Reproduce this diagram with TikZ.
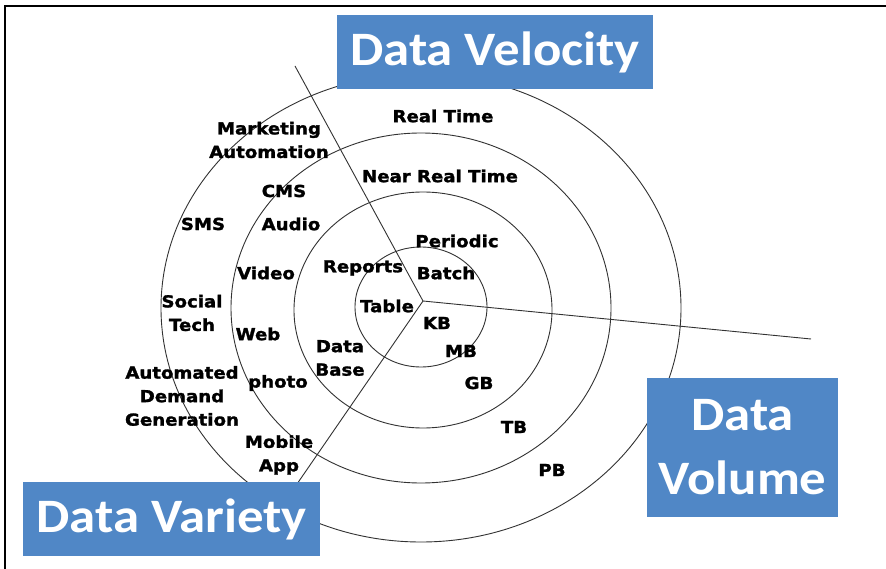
\documentclass[tikz,border=0pt]{standalone}
\usepackage{fontspec}
\newfontfamily\labfont[FakeStretch=1.1, BoldFeatures={FakeBold=1.6}]{DejaVu Sans}
\newfontfamily\boxfont[FakeStretch=1.1]{Carlito}
\definecolor{boxblue}{RGB}{80,135,198}
\definecolor{ringgray}{RGB}{50,50,50}
\tikzset{
  lab/.style={font=\labfont\bfseries\fontsize{16.5}{23.5}\selectfont, align=center, inner sep=0pt, text=black},
  title/.style={fill=boxblue, draw=none, text=white, inner sep=0pt, align=center,
    font=\boxfont\bfseries\fontsize{48}{64}\selectfont},
  ring/.style={draw=ringgray, line width=0.9pt},
  axis/.style={draw=ringgray, line width=0.9pt},
}
\begin{document}
\begin{tikzpicture}[x=1pt, y=-1pt]
\useasboundingbox (0,0) rectangle (886,569);
\fill[white] (0,0) rectangle (886,569);
% frame
\draw[line width=1.4pt] (5,569) -- (5,6) -- (886,6);
% rings
\draw[ring] (421,307) ellipse [x radius=66pt, y radius=60pt];
\draw[ring] (423,310) ellipse [x radius=129pt, y radius=118pt];
\draw[ring] (421,308) ellipse [x radius=190pt, y radius=175pt];
\draw[ring] (421,308) ellipse [x radius=260pt, y radius=234pt];
% axes
\coordinate (c) at (423,301);
\coordinate (velend) at (295,66);
\coordinate (volend) at (811,339);
\coordinate (varend) at (297,484);
\draw[axis] (c) -- (velend);
\draw[axis] (c) -- (volend);
\draw[axis] (c) -- (varend);
% title boxes
\node[title, minimum width=316pt, minimum height=74pt] (vel) at (495,52) {Data Velocity};
\node[title, minimum width=297pt, minimum height=74pt] (var) at (171.5,519) {Data Variety};
\node[title, minimum width=191pt, minimum height=139pt] (vol) at (742.5,447) {Data\\Volume};
% labels
\node[lab] (mkt) at (269,140) {Marketing\\Automation};
\node[lab] (rt) at (443,116) {Real Time};
\node[lab] (nrt) at (440,176) {Near Real Time};
\node[lab] (cms) at (284,191) {CMS};
\node[lab] (sms) at (203,224) {SMS};
\node[lab] (aud) at (291,224) {Audio};
\node[lab] (per) at (457,241) {Periodic};
\node[lab] (rep) at (363,268) {Reports};
\node[lab] (bat) at (446,273) {Batch};
\node[lab] (vid) at (266,273) {Video};
\node[lab] (soc) at (192,313) {Social\\Tech};
\node[lab] (tab) at (387,306) {Table};
\node[lab] (kb) at (437,323) {KB};
\node[lab] (web) at (258,334) {Web};
\node[lab] (db) at (340,358) {Data\\Base};
\node[lab] (mb) at (461,351) {MB};
\node[lab] (adg) at (182,396) {Automated\\Demand\\Generation};
\node[lab] (pho) at (278,383) {photo};
\node[lab] (gb) at (479,383) {GB};
\node[lab] (mob) at (279,455) {Mobile\\App};
\node[lab] (tb) at (514,427) {TB};
\node[lab] (pb) at (552,470) {PB};
\end{tikzpicture}
\end{document}
